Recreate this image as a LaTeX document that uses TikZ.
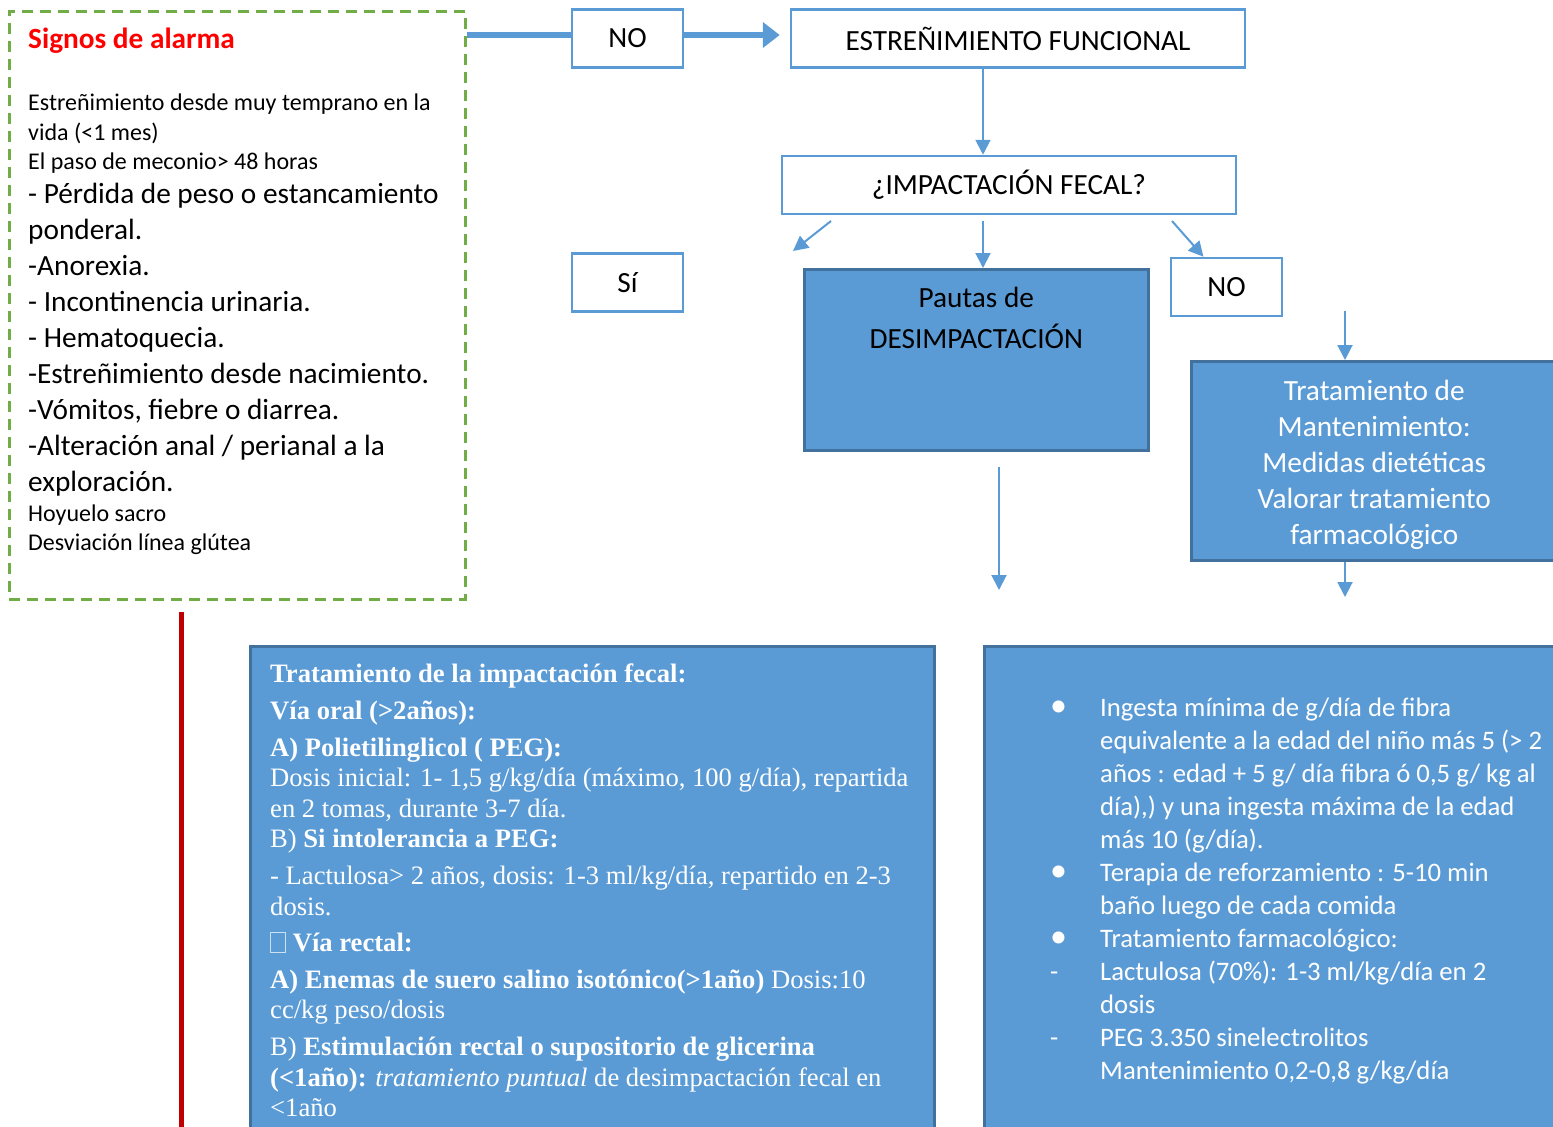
\documentclass[tikz,border=0pt]{standalone}
\usepackage{fontspec}
\setmainfont{Carlito}
\newfontfamily\serifrm{Liberation Serif}
\usetikzlibrary{arrows.meta,positioning}
\definecolor{flow}{HTML}{5B9BD5}
\definecolor{flowdark}{HTML}{41719C}
\definecolor{alarmgreen}{HTML}{70AD47}
\definecolor{redline}{HTML}{C00000}
\newcommand{\tofubox}{{\color{white!70!flow}\setlength{\fboxrule}{1pt}\setlength{\fboxsep}{0pt}\fbox{\rule{0pt}{19pt}\hspace{14pt}}}}
\newcommand{\dotitem}{\makebox[50pt][l]{\fontsize{34}{33}\selectfont\textbullet}}
\newcommand{\dashitem}{\makebox[50pt][l]{-}}
\newcommand{\hang}{\hspace*{50pt}}

\begin{document}
\begin{tikzpicture}[x=1pt, y=-1pt, every node/.style={font=\fontsize{29.3}{36}\selectfont, inner sep=0pt},
  wbox/.style={draw=flow, line width=2.5pt, fill=white, minimum height=58pt},
  bbox/.style={draw=flowdark, line width=2.5pt, fill=flow},
  alarmbox/.style={draw=alarmgreen, line width=2.5pt, dash pattern=on 11pt off 7pt},
  arr/.style={-{Triangle[length=15pt,width=15pt]}, flow, line width=2pt},
  bigline/.style={flow, line width=6pt},
  bigarr/.style={bigline, -{Triangle[length=17pt,width=25pt]}}]
  \useasboundingbox (0,0) rectangle (1553,1127);
  \clip (0,0) rectangle (1553,1127);

  % signos de alarma
  \node[alarmbox, minimum width=456pt, minimum height=588pt, anchor=north west] (alarm) at (8,10) {};
  \node[anchor=base west, text=red, font=\fontsize{29.3}{36}\selectfont\bfseries] (title) at (28,48) {Signos de alarma};
  \node[anchor=north west, text width=436pt, align=flush left] (signs) at (28,94) {%
    {\fontsize{24}{29.5}\selectfont Estreñimiento desde muy temprano en la\\vida (<1 mes)\\El paso de meconio> 48 horas\par}
    {\fontsize{29.3}{34}\selectfont - Pérdida de peso o estancamiento\par}
    {\fontsize{29.3}{36}\selectfont ponderal.\\-Anorexia.\\- Incontinencia urinaria.\\- Hematoquecia.\\-Estreñimiento desde nacimiento.\\-Vómitos, fiebre o diarrea.\\-Alteración anal / perianal a la\\exploración.\par}
    {\fontsize{24}{29.5}\selectfont Hoyuelo sacro\\Desviación línea glútea\par}};

  % flujo superior
  \node[wbox, minimum width=111pt] (no1) at (627.5,38.5) {NO};
  \node[wbox, minimum width=454pt] (func) at (1018,38.5) {ESTREÑIMIENTO FUNCIONAL};
  \node[wbox, minimum width=454pt] (impq) at (1009,185) {¿IMPACTACIÓN FECAL?};
  \node[wbox, minimum width=111pt] (si) at (627.5,282.5) {Sí};
  \node[wbox, minimum width=111pt] (no2) at (1226.5,287) {NO};
  \node[bbox, minimum width=344pt, minimum height=181pt, anchor=north west] (pautas) at (803,268) {};
  \node[anchor=north, align=center, font=\fontsize{29.3}{41}\selectfont] (pautastxt) at ([yshift=-19pt]pautas.north) {Pautas de\\DESIMPACTACIÓN};
  \node[bbox, minimum width=366pt, minimum height=199pt, anchor=north west] (mant) at (1190,360) {};
  \node[text=white, align=center] (manttxt) at ([yshift=-4pt]mant.center)
    {Tratamiento de\\Mantenimiento:\\Medidas dietéticas\\Valorar tratamiento\\farmacológico};

  % cajas inferiores
  \node[bbox, minimum width=684pt, minimum height=520pt, anchor=north west] (impbox) at (249,645) {};
  \node[anchor=north west, text width=662pt, align=flush left, text=white] (imptxt) at (270,664) {%
    \serifrm\fontsize{26.6}{30.6}\selectfont\setlength{\parskip}{6pt}%
    \textbf{Tratamiento de la impactación fecal:}\par
    \textbf{Vía oral (>2años):}\par
    \textbf{A) Polietilinglicol ( PEG):}\\Dosis inicial: 1- 1,5 g/kg/día (máximo, 100 g/día), repartida\\en 2 tomas, durante 3-7 día.\\B) \textbf{Si intolerancia a PEG:}\par
    - Lactulosa> 2 años, dosis: 1-3 ml/kg/día, repartido en 2-3\\dosis.\par
    \tofubox\ \textbf{Vía rectal:}\par
    \textbf{A) Enemas de suero salino isotónico(>1año)} Dosis:10\\cc/kg peso/dosis\par
    B) \textbf{Estimulación rectal o supositorio de glicerina}\\\textbf{(<1año):} \textit{tratamiento puntual} de desimpactación fecal en\\<1año\par};
  \node[bbox, minimum width=600pt, minimum height=520pt, anchor=north west] (dietbox) at (983,645) {};
  \node[anchor=north west, text width=520pt, align=flush left, text=white] (diettxt) at (1050,698) {%
    \fontsize{26.7}{33}\selectfont
    \dotitem Ingesta mínima de g/día de fibra\\\hang equivalente a la edad del niño más 5 (> 2\\\hang años : edad + 5 g/ día fibra ó 0,5 g/ kg al\\\hang día),) y una ingesta máxima de la edad\\\hang más 10 (g/día).\\
    \dotitem Terapia de reforzamiento : 5-10 min\\\hang baño luego de cada comida\\
    \dotitem Tratamiento farmacológico:\\
    \dashitem Lactulosa (70\%): 1-3 ml/kg/día en 2\\\hang dosis\\
    \dashitem PEG 3.350 sinelectrolitos\\\hang Mantenimiento 0,2-0,8 g/kg/día\par};

  % conectores
  \draw[bigline] (alarm.east |- no1.west) ++(0,-3.5) coordinate (thick start) -- ([yshift=3.5pt]no1.west);
  \draw[bigarr, shorten >=10pt] ([yshift=3.5pt]no1.east) -- ([yshift=3.5pt]func.west);
  \coordinate (efout) at (983,68);
  \draw[arr] (efout) -- (efout |- impq.north);
  \coordinate (fork l) at (831,221);
  \coordinate (tip l) at (793,251);
  \coordinate (fork m) at (983,221);
  \coordinate (fork r) at (1172,221);
  \draw[arr] (fork l) -- (tip l);
  \draw[arr] (fork m) -- (fork m |- pautas.north);
  \draw[arr] (fork r) -- ([xshift=-23pt]no2.north);
  \coordinate (mant in) at (1345,311);
  \draw[arr] (mant in) -- (mant in |- mant.north);
  \coordinate (mant out) at (1345,597);
  \draw[arr] (mant out |- mant.south) -- (mant out);
  \coordinate (des top) at (999,467);
  \coordinate (des end) at (999,590);
  \draw[arr] (des top) -- (des end);
  \coordinate (red top) at (181,612);
  \coordinate (red end) at (181,1140);
  \draw[redline, line width=5pt] (red top) -- (red end);
\end{tikzpicture}
\end{document}
